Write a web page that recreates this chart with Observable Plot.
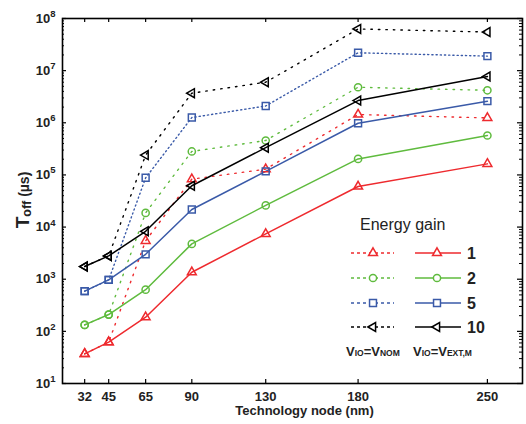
<!DOCTYPE html>
<html><head><meta charset="utf-8">
<script src="https://cdn.jsdelivr.net/npm/d3@7"></script>
<script src="https://cdn.jsdelivr.net/npm/@observablehq/plot@0.6"></script>
<style>body{margin:0;background:#fff}</style>
</head><body><div id="chart"></div>
<script>
// Technology nodes (nm)
const nodes = [32, 45, 65, 90, 130, 180, 250];
// T_off (µs), V_IO = V_EXT,M (solid)
const ext1  = [37, 62, 187, 1360, 7400, 60000, 163000];
const ext2  = [133, 210, 630, 4760, 26000, 203000, 570000];
const ext5  = [590, 970, 3000, 21700, 117000, 980000, 2600000];
const ext10 = [1750, 2800, 8300, 62000, 333000, 2670000, 7700000];
// T_off (µs), V_IO = V_NOM (dotted)
const nom1  = [37, 62, 5450, 83000, 129000, 1440000, 1240000];
const nom2  = [133, 210, 18700, 282000, 457000, 4800000, 4200000];
const nom5  = [590, 970, 88000, 1260000, 2100000, 22000000, 19000000];
const nom10 = [1750, 2800, 240000, 3700000, 6000000, 63000000, 55000000];
const gains = ["1", "2", "5", "10"];
const yMajor = [1e1, 1e2, 1e3, 1e4, 1e5, 1e6, 1e7, 1e8];

const colors = {"1": "#ee2a2e", "2": "#5fbb3e", "5": "#3a5aa8", "10": "#000000"};
const symbols = {"1": "triangle", "2": "circle", "5": "square", "10": "triangle"};
const radius = {"1": 3.3, "2": 3.6, "5": 3.9, "10": 3.3};
const rotation = {"1": 0, "2": 0, "5": 0, "10": -90};
const dotDash = {"1": "1.5,6", "2": "1.5,6", "5": "1.2,3", "10": "1.5,6"};

const extSeries = {"1": ext1, "2": ext2, "5": ext5, "10": ext10};
const nomSeries = {"1": nom1, "2": nom2, "5": nom5, "10": nom10};

const rows = (vals) => nodes.map((n, i) => ({node: n, value: vals[i]}));

const yMinor = [];
for (let e = 1; e < 8; e++) for (let m = 2; m <= 9; m++) yMinor.push(m * Math.pow(10, e));

const W = 526, H = 424, ML = 62, MR = 4, MT = 18, MB = 41;
const PW = W - ML - MR, PH = H - MT - MB;

const marks = [];
for (const g of gains) {
  marks.push(Plot.line(rows(nomSeries[g]), {x: "node", y: "value", stroke: colors[g], strokeWidth: 1.4, strokeDasharray: dotDash[g]}));
}
for (const g of gains) {
  marks.push(Plot.line(rows(extSeries[g]), {x: "node", y: "value", stroke: colors[g], strokeWidth: 1.5}));
}
for (const g of gains) {
  for (const s of [nomSeries[g], extSeries[g]]) {
    marks.push(Plot.dot(rows(s), {x: "node", y: "value", symbol: symbols[g], r: radius[g], rotate: rotation[g], stroke: colors[g], strokeWidth: 1.5, fill: "none"}));
  }
}

const font = "'Liberation Sans', Arial, sans-serif";
const tk = {stroke: "#000", strokeOpacity: 1};

const plot = Plot.plot({
  width: W, height: H,
  marginLeft: ML, marginRight: MR, marginTop: MT, marginBottom: MB,
  style: {fontFamily: font, background: "#fff"},
  x: {type: "linear", domain: [20, 269]},
  y: {type: "log", domain: [10, 1e8]},
  marks: [
    ...marks,
    // inward ticks
    Plot.gridX({ticks: nodes, insetTop: PH - 4, ...tk, strokeWidth: 1.2}),
    Plot.gridX({ticks: nodes, insetBottom: PH - 4, ...tk, strokeWidth: 1.2}),
    Plot.gridY({ticks: yMajor, insetRight: PW - 4, ...tk, strokeWidth: 1.2}),
    Plot.gridY({ticks: yMinor, insetRight: PW - 2, ...tk, strokeWidth: 1}),
    Plot.gridY({ticks: yMajor, insetLeft: PW - 5, ...tk, strokeWidth: 1.2}),
    Plot.gridY({ticks: yMinor, insetLeft: PW - 3, ...tk, strokeWidth: 1}),
    // tick labels
    Plot.axisX({anchor: "bottom", ticks: nodes, tickSize: 0, tickPadding: 8, label: null, tickFormat: d => String(d), fontSize: 13, fontWeight: "bold", fill: "#222"}),
    Plot.axisY({anchor: "left", ticks: yMajor, tickSize: 0, tickPadding: 7, label: null, tickFormat: d => String(Math.round(Math.log10(d))), fontSize: 13, fontWeight: "bold", fill: "#222"}),
    Plot.frame({stroke: "#000", strokeWidth: 1.6}),
    Plot.text(["Technology node (nm)"], {frameAnchor: "bottom", dy: 31, dx: 12, fontSize: 13, fontWeight: "bold", fill: "#222"})
  ]
});

document.getElementById("chart").appendChild(plot);
const svg = d3.select(plot);

// superscript exponents on y tick labels
svg.selectAll('g[aria-label="y-axis tick label"] text').each(function() {
  const e = this.textContent;
  const t = d3.select(this);
  t.text("");
  t.append("tspan").text("10");
  t.append("tspan").attr("dy", "-0.6em").attr("font-size", "9.5px").text(e);
});

// y-axis title
const yt = svg.append("text")
  .attr("transform", "translate(29,200) rotate(-90)")
  .attr("text-anchor", "middle")
  .attr("font-family", font).attr("font-weight", "bold").attr("fill", "#222");
yt.append("tspan").attr("font-size", "19px").text("T");
yt.append("tspan").attr("font-size", "12.5px").attr("dy", "2").text("off");
yt.append("tspan").attr("font-size", "14px").attr("dy", "-2").text(" (µs)");

// legend
const lg = svg.append("g").attr("font-family", font).attr("text-anchor", "start");
lg.append("text").attr("x", 360).attr("y", 230).attr("font-size", "16px").attr("fill", "#222").text("Energy gain");
const rowY = [253, 278, 303, 327];
const symPath = {
  "1": d3.symbol(d3.symbolTriangle, Math.PI * 3.3 * 3.3)(),
  "2": d3.symbol(d3.symbolCircle, Math.PI * 3.6 * 3.6)(),
  "5": d3.symbol(d3.symbolSquare, Math.PI * 3.9 * 3.9)(),
  "10": d3.symbol(d3.symbolTriangle, Math.PI * 3.3 * 3.3)()
};
gains.forEach((g, i) => {
  const y = rowY[i];
  lg.append("line").attr("x1", 351).attr("x2", 394).attr("y1", y).attr("y2", y)
    .attr("stroke", colors[g]).attr("stroke-width", 1.5).attr("stroke-dasharray", "3,3");
  lg.append("line").attr("x1", 415).attr("x2", 461).attr("y1", y).attr("y2", y)
    .attr("stroke", colors[g]).attr("stroke-width", 1.5);
  for (const cx of [373, 437]) {
    lg.append("path").attr("d", symPath[g])
      .attr("transform", `translate(${cx},${y}) rotate(${rotation[g]})`)
      .attr("fill", "#fff").attr("stroke", colors[g]).attr("stroke-width", 1.5);
  }
  lg.append("text").attr("x", 467).attr("y", y + 6).attr("font-size", "16px")
    .attr("font-weight", "bold").attr("fill", "#222").text(g);
});
function vlabel(x, sub) {
  const t = lg.append("text").attr("x", x).attr("y", 356).attr("font-weight", "bold").attr("fill", "#222");
  t.append("tspan").attr("font-size", "13px").text("V");
  t.append("tspan").attr("font-size", "8.5px").text("IO");
  t.append("tspan").attr("font-size", "13px").text("=V");
  t.append("tspan").attr("font-size", "8.5px").text(sub);
}
vlabel(346, "NOM");
vlabel(413, "EXT,M");
</script>
</body></html>
